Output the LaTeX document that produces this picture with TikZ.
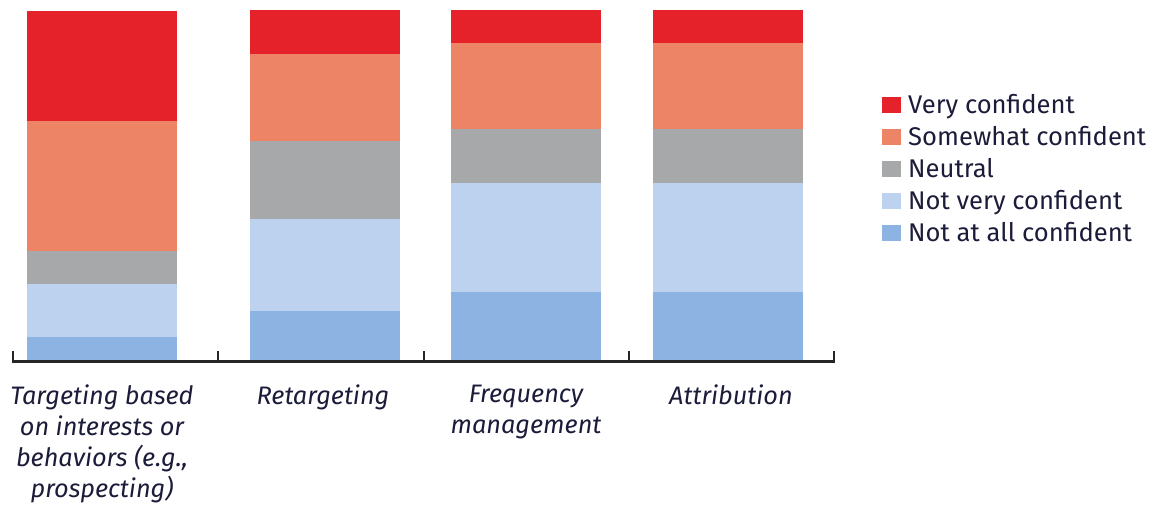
\documentclass[tikz,border=0pt]{standalone}
\usepackage{fontspec}
\setmainfont{Fira Sans}
\definecolor{cvery}{HTML}{E52229}
\definecolor{csome}{HTML}{EE8466}
\definecolor{cneut}{HTML}{A7A8AA}
\definecolor{cnotv}{HTML}{BDD2EE}
\definecolor{cnota}{HTML}{8DB3E2}
\definecolor{ctext}{HTML}{1B1B3A}
\begin{document}
\begin{tikzpicture}[x=1pt,y=-1pt,
  legbox/.style={fill=#1,draw=none,minimum width=19pt,minimum height=16pt,inner sep=0pt},
  legtxt/.style={text=ctext,font=\fontsize{25.6}{30}\selectfont,anchor=base west,inner sep=0pt},
  lab/.style={text=ctext,font=\fontsize{25.3}{31}\selectfont\itshape,align=center,anchor=north,inner sep=0pt},
  axisline/.style={draw=black!85,line width=2.2pt}]
\useasboundingbox (0,0) rectangle (1165,506);
% bar 1
\fill[cvery] (27,11) rectangle (177,121);
\fill[csome] (27,121) rectangle (177,251);
\fill[cneut] (27,251) rectangle (177,284);
\fill[cnotv] (27,284) rectangle (177,337);
\fill[cnota] (27,337) rectangle (177,362);
% bar 2
\fill[cvery] (250,10) rectangle (400,54);
\fill[csome] (250,54) rectangle (400,141);
\fill[cneut] (250,141) rectangle (400,219);
\fill[cnotv] (250,219) rectangle (400,311);
\fill[cnota] (250,311) rectangle (400,362);
% bar 3
\fill[cvery] (451,10) rectangle (601,43);
\fill[csome] (451,43) rectangle (601,129);
\fill[cneut] (451,129) rectangle (601,183);
\fill[cnotv] (451,183) rectangle (601,292);
\fill[cnota] (451,292) rectangle (601,362);
% bar 4
\fill[cvery] (653,10) rectangle (803,43);
\fill[csome] (653,43) rectangle (803,129);
\fill[cneut] (653,129) rectangle (803,183);
\fill[cnotv] (653,183) rectangle (803,292);
\fill[cnota] (653,292) rectangle (803,362);
% axis
\draw[axisline] (13,361.5) -- (834,361.5);
\foreach \t in {13,218,424,629,834} \draw[axisline] (\t,351) -- (\t,362.5);
% labels
\node[lab] (l1) at (102,385) {Targeting based\\on interests or\\behaviors (e.g.,\\prospecting)};
\node[lab] (l2) at (323,385) {Retargeting};
\node[lab] (l3) at (526,385) {Frequency\\management};
\node[lab] (l4) at (731,385) {Attribution};
% legend
\foreach \c/\t [count=\i] in {cvery/Very confident,csome/Somewhat confident,cneut/Neutral,cnotv/Not very confident,cnota/Not at all confident}{
  \node[legbox=\c] (b\i) at (891.5,{105+32*(\i-1)}) {};
  \node[legtxt] (t\i) at (908,{113+32*(\i-1)}) {\t};
}
\end{tikzpicture}
\end{document}
